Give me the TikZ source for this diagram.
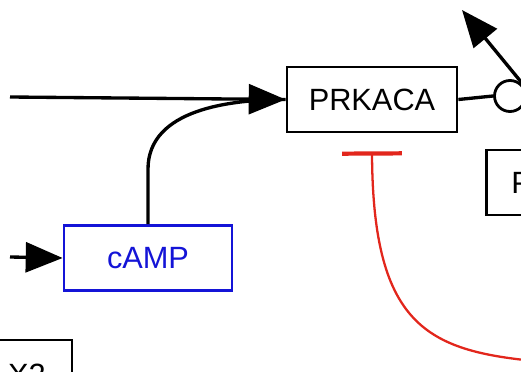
\documentclass[tikz,border=0pt]{standalone}
\usepackage{fontspec}
\setmainfont{Liberation Sans}
\usepackage{tikz}
\usetikzlibrary{arrows.meta, positioning, calc}
\definecolor{inhred}{RGB}{226,38,28}
\definecolor{cmpblue}{RGB}{20,20,215}
\tikzset{
  geneBox/.style={rectangle, draw=black, fill=white, line width=1.6pt,
    minimum width=3.4cm, minimum height=1.3cm,
    font=\fontsize{17.5}{20}\selectfont},
  campBox/.style={geneBox, draw=cmpblue, text=cmpblue, minimum width=3.36cm},
  act/.style={-{Triangle[length=21pt, width=17pt]}, line width=1.9pt, color=black},
  inhib/.style={-{Bar[width=34pt, line width=2.4pt]}, line width=1.3pt, color=inhred},
  link/.style={line width=1.9pt, color=black}
}
\begin{document}
\begin{tikzpicture}[x=0.02cm, y=-0.02cm]
  \useasboundingbox (0,0) rectangle (521,372);
  \clip (0,0) rectangle (521,372);

  % Boxes
  \node[geneBox] (prkaca) at (372,99.5) {PRKACA};
  \node[campBox] (camp) at (148,258) {cAMP};
  \node[geneBox, anchor=west, inner xsep=0.5cm, text width=2.4cm, align=left] (pbox) at (485,182.5) {P};
  \node[geneBox, minimum width=1.8cm, minimum height=1.4cm] (xbox) at (27,375) {X2};
  \node[circle, draw=black, fill=white, line width=1.6pt, minimum size=0.62cm, inner sep=0pt] (junc) at (510,96) {};

  % Free ends
  \coordinate (leftIn) at (10,97);
  \coordinate (campIn) at (10,257);
  \coordinate (upSrc) at (540,105);
  \coordinate (upTip) at (462,10);
  \coordinate (redSrc) at (545,362);
  \coordinate (redEnd) at ($(prkaca.south)+(0,18)$);

  % Connectors
  \draw[link] (camp.north) -- ++(0,-55) .. controls +(0,-60) and +(-55,0) .. (prkaca.west);
  \draw[act] (leftIn) -- (prkaca.west);
  \draw[act] (campIn) -- (camp.west);
  \draw[link] (prkaca.east) -- (junc.west);
  \draw[act] (upSrc) -- (upTip);
  \draw[inhib] (redSrc) .. controls (430,352) and (373,330) .. (redEnd);
\end{tikzpicture}
\end{document}
